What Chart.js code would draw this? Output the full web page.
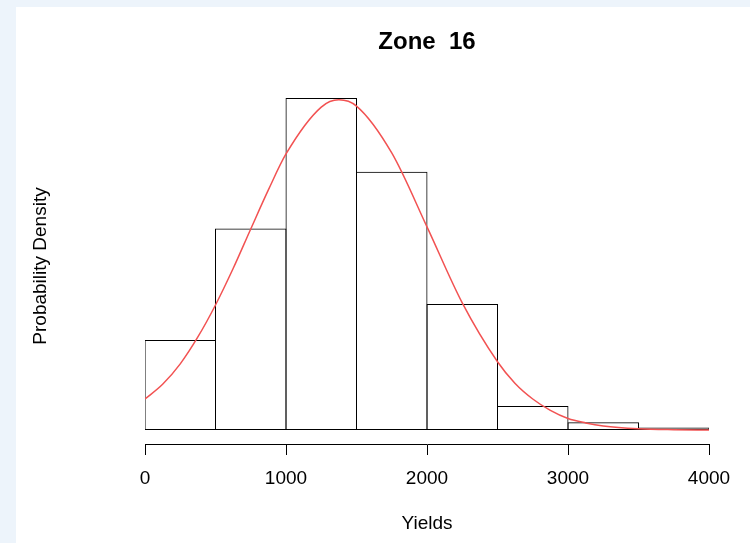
<!DOCTYPE html>
<html>
<head>
<meta charset="utf-8">
<script src="https://cdn.jsdelivr.net/npm/chart.js@4"></script>
<style>
  html, body { margin: 0; padding: 0; overflow: hidden; background: #edf4fb; }
  #panel { position: absolute; left: 16px; top: 7px; width: 734px; height: 536px; background: #ffffff; }
  #c { position: absolute; left: 0; top: 0; width: 750px; height: 543px; }
</style>
</head>
<body>
<div id="panel"></div>
<canvas id="c" width="750" height="543"></canvas>
<script>
// ---- data ----
const chartTitle = 'Zone  16';
const xTitle = 'Yields';
const yTitle = 'Probability Density';

// histogram bins (yield classes) and their probability densities
const binEdges = [0, 500, 1000, 1500, 2000, 2500, 3000, 3500, 4000];
const binDensity = [1.73e-4, 3.87e-4, 6.375e-4, 4.96e-4, 2.42e-4, 4.6e-5, 1.5e-5, 4.8e-6];

// fitted density curve
const curveX = [0, 125, 250, 375, 500, 625, 750, 875, 1000, 1250, 1375, 1500, 1750, 2000, 2250, 2500, 2625, 2750, 2875, 3000, 3125, 3250, 3500, 3750, 4000];
const curveY = [0.595e-4, 0.878e-4, 1.27e-4, 1.786e-4, 2.40e-4, 3.10e-4, 3.86e-4, 4.61e-4, 5.30e-4, 6.20e-4, 6.34e-4, 6.22e-4, 5.32e-4, 3.90e-4, 2.44e-4, 1.31e-4, 0.893e-4, 0.595e-4, 0.376e-4, 0.22e-4, 0.136e-4, 0.077e-4, 0.023e-4, 0.006e-4, 0.001e-4];

// x-axis tick labels
const xTickValues = [0, 1000, 2000, 3000, 4000];

// ---- build chart ----
const barData = binDensity.map((d, i) => ({ x: (binEdges[i] + binEdges[i + 1]) / 2, y: d }));
const lineData = curveX.map((x, i) => ({ x: x, y: curveY[i] }));

const FONT = "'Liberation Sans', Arial, Helvetica, sans-serif";

new Chart(document.getElementById('c'), {
  type: 'bar',
  data: {
    datasets: [
      {
        type: 'line',
        data: lineData,
        borderColor: '#f25252',
        borderWidth: 1.5,
        pointRadius: 0,
        cubicInterpolationMode: 'monotone',
        fill: false,
        order: 0
      },
      {
        type: 'bar',
        data: barData,
        backgroundColor: 'rgba(255,255,255,0)',
        borderColor: '#000000',
        borderSkipped: false,
        borderWidth: 1,
        barPercentage: 71.5 / 70.5,
        categoryPercentage: 1,
        order: 1
      }
    ]
  },
  options: {
    responsive: false,
    animation: false,
    devicePixelRatio: 1,
    layout: { padding: { left: 25, right: 41, top: 0, bottom: 0 } },
    plugins: {
      legend: { display: false },
      tooltip: { enabled: false },
      title: {
        display: true,
        text: chartTitle,
        fullSize: false,
        color: '#000',
        font: { family: FONT, size: 24, weight: 'bold' },
        padding: { top: 27.6, bottom: 31.6 }
      }
    },
    scales: {
      x: {
        type: 'linear',
        min: binEdges[0],
        max: binEdges[binEdges.length - 1],
        offset: false,
        afterBuildTicks: (scale) => { scale.ticks = xTickValues.map(v => ({ value: v })); },
        afterFit: (scale) => { scale.height = 99; },
        grid: { display: true, drawOnChartArea: false, drawTicks: true, tickLength: 11, color: '#000', lineWidth: 1, offset: false },
        border: { display: true, color: '#000', width: 1 },
        ticks: { color: '#000', font: { family: FONT, size: 19 }, padding: 12, maxRotation: 0, autoSkip: false,
                 callback: (v) => String(v) },
        title: { display: true, text: xTitle, color: '#000', font: { family: FONT, size: 19 }, padding: { top: 4, bottom: 8 } }
      },
      y: {
        min: -2.69e-5,
        max: 6.567e-4,
        afterFit: (scale) => { scale.width = 120; },
        grid: { display: false },
        border: { display: false },
        ticks: { display: false },
        title: { display: true, text: yTitle, color: '#000', font: { family: FONT, size: 19 }, padding: { top: 4, bottom: 4 } }
      }
    }
  }
});
</script>
</body>
</html>
